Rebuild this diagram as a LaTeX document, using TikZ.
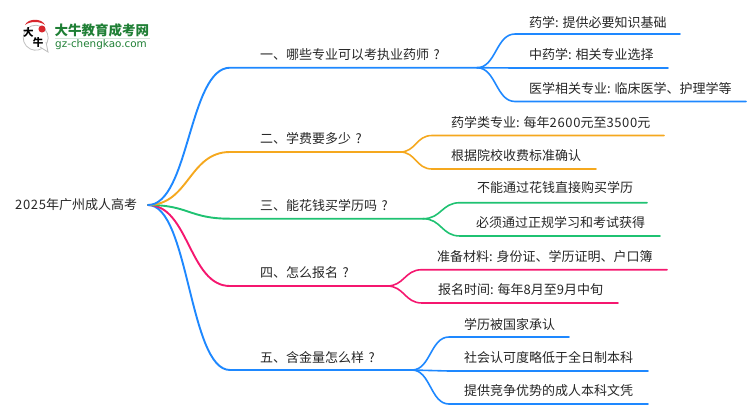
\documentclass[tikz,border=0pt]{standalone}
\usepackage{fontspec}
\setmainfont{Noto Sans CJK SC}
\newfontfamily\logolatin{DejaVu Sans}
\newfontfamily\digitfont[LetterSpace=5]{Noto Sans CJK SC}
\newcommand{\digits}[1]{{\digitfont #1}}
\newcommand{\qmark}{\hspace{4.5pt}?}
\usetikzlibrary{calc}
\usetikzlibrary{positioning}
\definecolor{branchblue}{HTML}{1E88FF}
\definecolor{branchorange}{HTML}{F5A81E}
\definecolor{branchgreen}{HTML}{1FC272}
\definecolor{branchpink}{HTML}{F5176F}
\definecolor{logogreen}{HTML}{1F7F35}
\definecolor{logored}{HTML}{D8262C}
\begin{document}
\begin{tikzpicture}
	[
	x=1pt, y=-1pt,
  label/.style = {anchor=west,inner sep=0pt,font=\fontsize{13}{13}\selectfont,text=black!85},
  flow/.style = {to path={let \p1=(\tikztostart),\p2=(\tikztotarget) in .. controls (0.5*\x1+0.5*\x2,\y1) and (0.5*\x1+0.5*\x2,\y2) .. (\tikztotarget)}},
  main/.style = {line width=1.9pt,line cap=round},
  leaf/.style = {line width=1.6pt,line cap=round}
  ]
	\useasboundingbox (0,0) rectangle (750,410);

	% logo
	\draw[black!25,line width=.8pt,fill=white] (47,43) arc (25:-320:12.5) -- cycle;
	\draw[black!25,line width=.8pt,fill=white] (40,47) -- (48,52) -- (46,42);
	\fill[logored] (25,25) .. controls (28,18) and (42,18) .. (45,25) .. controls (40,21) and (30,21) .. (25,25);
	\node[circle,fill=logored,inner sep=2.5pt] (seal) at (42,29) {};
	\node[font=\fontsize{10.5}{10.5}\selectfont\bfseries,inner sep=0pt] (logoa) at (28.5,32) {大};
	\node[font=\fontsize{10.5}{10.5}\selectfont\bfseries,inner sep=0pt] (logob) at (38,43) {牛};
	\node[anchor=west,inner sep=0pt,text=logogreen,font=\fontsize{13.5}{13.5}\selectfont\bfseries] (logotext) at (54.5,30) {大牛教育成考网};
	\node[anchor=west,inner sep=0pt,text=logogreen,font=\fontsize{10.4}{10.4}\selectfont\logolatin] (logourl) at (55,44.5) {gz-chengkao.com};
	\draw[logogreen!20,line width=.8pt] (logotext.south west) ++(0,2) -- ++(95,0);

	\coordinate (root) at (148,205);

	\coordinate (b1s) at (230,67.7);
	\coordinate (b1) at (477,67.7);
	\coordinate (b2s) at (230,152);
	\coordinate (b2) at (400,152);
	\coordinate (b3s) at (230,218.7);
	\coordinate (b3) at (423,218.7);
	\coordinate (b4s) at (230,286);
	\coordinate (b4) at (387,286);
	\coordinate (b5s) at (230,370);
	\coordinate (b5) at (412,370);

	\coordinate (l11s) at (515,34);
	\coordinate (l11) at (680,34);
	\coordinate (l12s) at (515,68);
	\coordinate (l12) at (668,68);
	\coordinate (l13s) at (515,101.5);
	\coordinate (l13) at (746,101.5);
	\coordinate (l21s) at (432,135.5);
	\coordinate (l21) at (664,135.5);
	\coordinate (l22s) at (432,169);
	\coordinate (l22) at (596,169);
	\coordinate (l31s) at (460,202.7);
	\coordinate (l31) at (647,202.7);
	\coordinate (l32s) at (460,236);
	\coordinate (l32) at (660,236);
	\coordinate (l41s) at (422,269.7);
	\coordinate (l41) at (667,269.7);
	\coordinate (l42s) at (422,303);
	\coordinate (l42) at (618,303);
	\coordinate (l51s) at (449,337);
	\coordinate (l51) at (569,337);
	\coordinate (l52s) at (449,371);
	\coordinate (l52) at (648,371);
	\coordinate (l53s) at (449,404);
	\coordinate (l53) at (648,404);

	\draw[main,branchblue] (root) to[flow] (b5s) -- (b5);
	\draw[main,branchpink] (root) to[flow] (b4s) -- (b4);
	\draw[main,branchgreen] (root) to[flow] (b3s) -- (b3);
	\draw[main,branchorange] (root) to[flow] (b2s) -- (b2);
	\draw[main,branchblue] (root) to[flow] (b1s) -- (b1);

	\draw[leaf,branchblue] (b1) to[flow] (l11s) -- (l11);
	\draw[leaf,branchblue] (b1) to[flow] (l12s) -- (l12);
	\draw[leaf,branchblue] (b1) to[flow] (l13s) -- (l13);
	\draw[leaf,branchorange] (b2) to[flow] (l21s) -- (l21);
	\draw[leaf,branchorange] (b2) to[flow] (l22s) -- (l22);
	\draw[leaf,branchgreen] (b3) to[flow] (l31s) -- (l31);
	\draw[leaf,branchgreen] (b3) to[flow] (l32s) -- (l32);
	\draw[leaf,branchpink] (b4) to[flow] (l41s) -- (l41);
	\draw[leaf,branchpink] (b4) to[flow] (l42s) -- (l42);
	\draw[leaf,branchblue] (b5) to[flow] (l51s) -- (l51);
	\draw[leaf,branchblue] (b5) to[flow] (l52s) -- (l52);
	\draw[leaf,branchblue] (b5) to[flow] (l53s) -- (l53);

	\node[label] (roottext) at (15,205) {\digits{2025}年广州成人高考};

	\node[label] (t1) at (260,55) {一、哪些专业可以考执业药师\qmark};
	\node[label] (t2) at (260,139) {二、学费要多少\qmark};
	\node[label] (t3) at (260,206) {三、能花钱买学历吗\qmark};
	\node[label] (t4) at (260,273) {四、怎么报名\qmark};
	\node[label] (t5) at (260,357) {五、含金量怎么样\qmark};

	\node[label] (t11) at (529,22) {药学: 提供必要知识基础};
	\node[label] (t12) at (529,55) {中药学: 相关专业选择};
	\node[label] (t13) at (529,89) {医学相关专业: 临床医学、护理学等};
	\node[label] (t21) at (451,123) {药学类专业: 每年\digits{2600}元至\digits{3500}元};
	\node[label] (t22) at (451,156) {根据院校收费标准确认};
	\node[label] (t31) at (477,188) {不能通过花钱直接购买学历};
	\node[label] (t32) at (476,223) {必须通过正规学习和考试获得};
	\node[label] (t41) at (437,257) {准备材料: 身份证、学历证明、户口簿};
	\node[label] (t42) at (438,290) {报名时间: 每年\digits{8}月至\digits{9}月中旬};
	\node[label] (t51) at (464,324) {学历被国家承认};
	\node[label] (t52) at (464,358) {社会认可度略低于全日制本科};
	\node[label] (t53) at (464,391) {提供竞争优势的成人本科文凭};
\end{tikzpicture}
\end{document}
